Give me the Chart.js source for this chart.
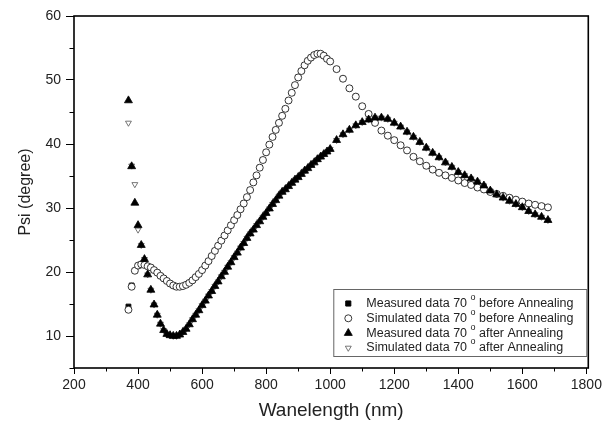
<!DOCTYPE html>
<html>
<head>
<meta charset="utf-8">
<script src="https://cdn.jsdelivr.net/npm/chart.js@4.4.0/dist/chart.umd.min.js"></script>
<style>
  html, body { margin: 0; padding: 0; background: #fff; }
</style>
</head>
<body>
<canvas id="myChart" width="605" height="423"></canvas>
<script>
// wavelength in nm: 10 nm steps up to 1000, then 20 nm steps
let wavelength = [
  370, 380, 390, 400, 410, 420, 430, 440, 450, 460,
  470, 480, 490, 500, 510, 520, 530, 540, 550, 560,
  570, 580, 590, 600, 610, 620, 630, 640, 650, 660,
  670, 680, 690, 700, 710, 720, 730, 740, 750, 760,
  770, 780, 790, 800, 810, 820, 830, 840, 850, 860,
  870, 880, 890, 900, 910, 920, 930, 940, 950, 960,
  970, 980, 990, 1000,
  1020, 1040, 1060, 1080, 1100, 1120, 1140, 1160, 1180, 1200,
  1220, 1240, 1260, 1280, 1300, 1320, 1340, 1360, 1380, 1400,
  1420, 1440, 1460, 1480, 1500, 1520, 1540, 1560, 1580, 1600,
  1620, 1640, 1660, 1680
];

let measuredBefore = [
  14.6, 17.9, 20.2, 21.0, 21.2, 21.1, 20.9, 20.7, 20.3, 19.9,
  19.4, 19.0, 18.6, 18.2, 17.9, 17.7, 17.7, 17.8, 18.0, 18.3,
  18.7, 19.2, 19.7, 20.3, 21.0, 21.7, 22.5, 23.3, 24.1, 24.9,
  25.7, 26.5, 27.3, 28.1, 28.9, 29.8, 30.7, 31.7, 32.8, 34.0,
  35.1, 36.3, 37.5, 38.7, 39.9, 41.1, 42.2, 43.3, 44.4, 45.5,
  46.8, 48.0, 49.2, 50.4, 51.4, 52.3, 53.0, 53.5, 53.9, 54.1,
  54.1, 53.8, 53.3, 52.9,
  51.7, 50.2, 48.7, 47.4, 45.9, 44.7, 43.3, 42.1, 41.3, 40.6,
  39.8, 39.0, 38.0, 37.3, 36.6, 36.0, 35.5, 35.1, 34.7, 34.3,
  33.9, 33.6, 33.2, 32.9, 32.5, 32.2, 31.9, 31.6, 31.3, 31.0,
  30.7, 30.5, 30.3, 30.1
];

let simulatedBefore = [
  14.1, 17.7, 20.2, 21.0, 21.2, 21.1, 20.9, 20.7, 20.3, 19.9,
  19.4, 19.0, 18.6, 18.2, 17.9, 17.7, 17.7, 17.8, 18.0, 18.3,
  18.7, 19.2, 19.7, 20.3, 21.0, 21.7, 22.5, 23.3, 24.1, 24.9,
  25.7, 26.5, 27.3, 28.1, 28.9, 29.8, 30.7, 31.7, 32.8, 34.0,
  35.1, 36.3, 37.5, 38.7, 39.9, 41.1, 42.2, 43.3, 44.4, 45.5,
  46.8, 48.0, 49.2, 50.4, 51.4, 52.3, 53.0, 53.5, 53.9, 54.1,
  54.1, 53.8, 53.3, 52.9,
  51.7, 50.2, 48.7, 47.4, 45.9, 44.7, 43.3, 42.1, 41.3, 40.6,
  39.8, 39.0, 38.0, 37.3, 36.6, 36.0, 35.5, 35.1, 34.7, 34.3,
  33.9, 33.6, 33.2, 32.9, 32.5, 32.2, 31.9, 31.6, 31.3, 31.0,
  30.7, 30.5, 30.3, 30.1
];

let measuredAfter = [
  46.8, 36.5, 30.8, 27.3, 24.2, 22.0, 19.6, 17.2, 14.9, 13.3,
  11.9, 10.9, 10.3, 10.1, 10.0, 10.0, 10.2, 10.6, 11.1, 11.8,
  12.6, 13.3, 14.0, 14.8, 15.5, 16.3, 17.0, 17.8, 18.5, 19.3,
  20.0, 20.8, 21.5, 22.3, 23.0, 23.8, 24.5, 25.3, 26.0, 26.6,
  27.3, 27.9, 28.6, 29.2, 29.9, 30.6, 31.2, 31.9, 32.5, 32.9,
  33.4, 33.9, 34.4, 34.8, 35.3, 35.8, 36.2, 36.7, 37.1, 37.6,
  38.0, 38.4, 38.8, 39.2,
  40.6, 41.5, 42.2, 42.9, 43.4, 43.8, 44.1, 44.1, 43.9, 43.3,
  42.7, 41.9, 41.1, 40.3, 39.4, 38.6, 37.9, 37.1, 36.4, 35.6,
  35.1, 34.6, 34.1, 33.5, 32.7, 32.1, 31.6, 31.1, 30.6, 30.1,
  29.5, 29.0, 28.6, 28.1
];

let simulatedAfter = [
  43.3, 36.6, 33.7, 26.6, 24.2, 22.0, 19.6, 17.2, 14.9, 13.3,
  11.9, 10.9, 10.3, 10.1, 10.0, 10.0, 10.2, 10.6, 11.1, 11.8,
  12.6, 13.3, 14.0, 14.8, 15.5, 16.3, 17.0, 17.8, 18.5, 19.3,
  20.0, 20.8, 21.5, 22.3, 23.0, 23.8, 24.5, 25.3, 26.0, 26.6,
  27.3, 27.9, 28.6, 29.2, 29.9, 30.6, 31.2, 31.9, 32.5, 32.9,
  33.4, 33.9, 34.4, 34.8, 35.3, 35.8, 36.2, 36.7, 37.1, 37.6,
  38.0, 38.4, 38.8, 39.2,
  40.6, 41.5, 42.2, 42.9, 43.4, 43.8, 44.1, 44.1, 43.9, 43.3,
  42.7, 41.9, 41.1, 40.3, 39.4, 38.6, 37.9, 37.1, 36.4, 35.6,
  35.1, 34.6, 34.1, 33.5, 32.7, 32.1, 31.6, 31.1, 30.6, 30.1,
  29.5, 29.0, 28.6, 28.1
];

// axis ticks: every value gets a tick mark, labelled ones are listed separately
let xTicks = [200, 300, 400, 500, 600, 700, 800, 900, 1000, 1100, 1200, 1300, 1400, 1500, 1600, 1700, 1800];
let xLabels = [200, 400, 600, 800, 1000, 1200, 1400, 1600, 1800];
let yTicks = [5, 10, 15, 20, 25, 30, 35, 40, 45, 50, 55, 60];
let yLabels = [10, 20, 30, 40, 50, 60];

let legendNames = [
  ["Measured data 70 ", "o", " before Annealing"],
  ["Simulated data 70 ", "o", " before Annealing"],
  ["Measured data 70 ", "o", " after Annealing"],
  ["Simulated data 70 ", "o", " after Annealing"]
];

function toPoints(values) {
  return values.map((v, i) => ({ x: wavelength[i], y: v }));
}

// marker shapes, shared by the datasets and the legend box
const markers = [
  { pointStyle: "rect", radius: 3.4, bg: "#000", border: "#000", bw: 1, rotation: 0 },
  { pointStyle: "circle", radius: 3.5, bg: "#fff", border: "#222", bw: 0.9, rotation: 0 },
  { pointStyle: "triangle", radius: 4.6, bg: "#000", border: "#000", bw: 0.8, rotation: 0 },
  { pointStyle: "triangle", radius: 3.4, bg: "#fff", border: "#555", bw: 0.8, rotation: 180 }
];

function drawMarker(ctx, m, x, y) {
  ctx.save();
  ctx.fillStyle = m.bg;
  ctx.strokeStyle = m.border;
  ctx.lineWidth = m.bw;
  ctx.beginPath();
  let r = m.radius;
  if (m.pointStyle === "rect") {
    ctx.rect(x - r * 0.75, y - r * 0.75, r * 1.5, r * 1.5);
  } else if (m.pointStyle === "circle") {
    ctx.arc(x, y, r, 0, Math.PI * 2);
  } else {
    let s = m.rotation === 180 ? -1 : 1;
    ctx.moveTo(x, y - s * r);
    ctx.lineTo(x + r * 0.87, y + s * r * 0.5);
    ctx.lineTo(x - r * 0.87, y + s * r * 0.5);
    ctx.closePath();
  }
  ctx.fill();
  ctx.stroke();
  ctx.restore();
}

const framePlugin = {
  id: "frame",
  afterDatasetsDraw(chart) {
    const ctx = chart.ctx;
    const a = chart.chartArea;
    ctx.save();
    ctx.strokeStyle = "#000";
    ctx.lineWidth = 1.6;
    ctx.strokeRect(a.left, a.top, a.right - a.left, a.bottom - a.top);

    // minor ticks, shorter than the labelled ones
    ctx.lineWidth = 1;
    const xs = chart.scales.x;
    xTicks.forEach((v) => {
      if (!xLabels.includes(v)) {
        const px = Math.round(xs.getPixelForValue(v)) + 0.5;
        ctx.beginPath();
        ctx.moveTo(px, a.bottom);
        ctx.lineTo(px, a.bottom + 3.5);
        ctx.stroke();
      }
    });
    const ys = chart.scales.y;
    yTicks.forEach((v) => {
      if (!yLabels.includes(v)) {
        const py = Math.round(ys.getPixelForValue(v)) + 0.5;
        ctx.beginPath();
        ctx.moveTo(a.left, py);
        ctx.lineTo(a.left - 4.5, py);
        ctx.stroke();
      }
    });

    // legend box inside the plot
    const bx = a.right - 255, by = a.bottom - 79, bw = 253, bh = 67;
    ctx.fillStyle = "#fff";
    ctx.fillRect(bx, by, bw, bh);
    ctx.strokeStyle = "#666";
    ctx.lineWidth = 1;
    ctx.strokeRect(bx + 0.5, by + 0.5, bw, bh);
    ctx.textBaseline = "middle";
    ctx.fillStyle = "#222";
    const font = "'Liberation Sans', Arial, sans-serif";
    for (let i = 0; i < legendNames.length; i++) {
      const y = by + 14.5 + i * 14.8;
      drawMarker(ctx, markers[i], bx + 15, y);
      let x = bx + 33;
      ctx.font = "12.5px " + font;
      ctx.fillText(legendNames[i][0], x, y);
      x += ctx.measureText(legendNames[i][0]).width;
      ctx.font = "9px " + font;
      ctx.fillText(legendNames[i][1], x, y - 6);
      x += ctx.measureText(legendNames[i][1]).width;
      ctx.font = "12.5px " + font;
      ctx.fillText(legendNames[i][2], x, y);
    }
    ctx.restore();
  }
};

function makeDataset(values, i, order) {
  const m = markers[i];
  return {
    label: legendNames[i].join(""),
    data: toPoints(values),
    showLine: false,
    order: order,
    pointStyle: m.pointStyle,
    pointRadius: m.radius,
    pointRotation: m.rotation,
    pointBackgroundColor: m.bg,
    pointBorderColor: m.border,
    pointBorderWidth: m.bw
  };
}

const fontFamily = "'Liberation Sans', Arial, sans-serif";
const tickFont = { family: fontFamily, size: 14 };

new Chart(document.getElementById("myChart").getContext("2d"), {
  type: "scatter",
  data: {
    datasets: [
      makeDataset(measuredBefore, 0, 4),
      makeDataset(simulatedBefore, 1, 2),
      makeDataset(measuredAfter, 2, 1),
      makeDataset(simulatedAfter, 3, 3)
    ]
  },
  options: {
    responsive: false,
    animation: false,
    events: [],
    layout: { padding: { top: 16, right: 16, left: 0, bottom: 0 } },
    plugins: { legend: { display: false }, tooltip: { enabled: false } },
    scales: {
      x: {
        type: "linear",
        min: 200,
        max: 1806,
        afterBuildTicks: (s) => { s.ticks = xLabels.map((v) => ({ value: v })); },
        afterFit: (s) => { s.height = 55; },
        border: { display: false },
        grid: { drawOnChartArea: false, tickLength: 6, tickWidth: 1, tickColor: "#000" },
        ticks: {
          autoSkip: false,
          maxRotation: 0,
          padding: 3,
          color: "#222",
          font: tickFont,
          callback: (v) => String(v)
        },
        title: {
          display: true,
          text: "Wanelength (nm)",
          color: "#222",
          font: { family: fontFamily, size: 19 },
          padding: { top: 0, bottom: 1 }
        }
      },
      y: {
        min: 5,
        max: 60,
        afterBuildTicks: (s) => { s.ticks = yLabels.map((v) => ({ value: v })); },
        afterFit: (s) => { s.width = 74; },
        border: { display: false },
        grid: { drawOnChartArea: false, tickLength: 8, tickWidth: 1, tickColor: "#000" },
        ticks: {
          autoSkip: false,
          padding: 5,
          color: "#222",
          font: tickFont,
          callback: (v) => String(v)
        },
        title: {
          display: true,
          text: "Psi (degree)",
          color: "#222",
          font: { family: fontFamily, size: 16 },
          padding: { top: 16, bottom: 0 }
        }
      }
    }
  },
  plugins: [framePlugin]
});
</script>
</body>
</html>
